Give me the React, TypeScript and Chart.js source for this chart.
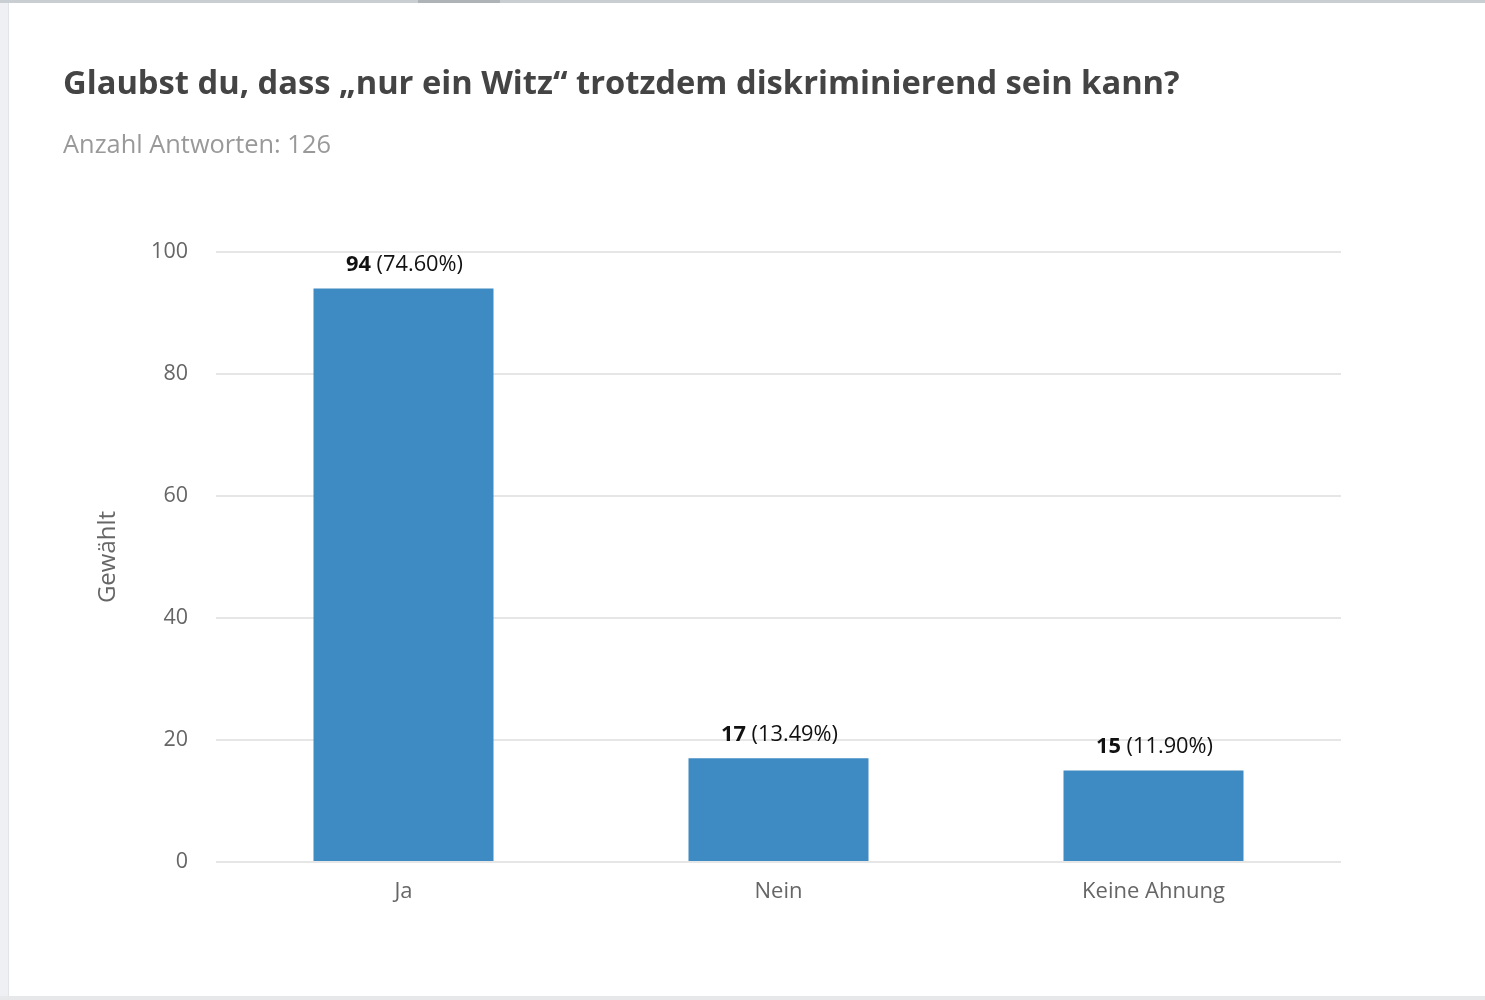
import React, { useEffect, useRef } from 'react';
import Chart from 'chart.js/auto';

const categories = ['Ja', 'Nein', 'Keine Ahnung'];
const votes = [94, 17, 15];
const percents = ['74.60%', '13.49%', '11.90%'];
const yTicks = [0, 20, 40, 60, 80, 100];

const FONT = '"Open Sans", sans-serif';

const valueLabels = {
  id: 'valueLabels',
  afterDatasetsDraw(chart: any) {
    const ctx = chart.ctx;
    const meta = chart.getDatasetMeta(0);
    ctx.save();
    ctx.textBaseline = 'middle';
    ctx.fillStyle = '#111';
    meta.data.forEach((bar: any, i: number) => {
      const num = String(votes[i]);
      const rest = ' (' + percents[i] + ')';
      ctx.font = '700 21.8px ' + FONT;
      const w1 = ctx.measureText(num).width;
      ctx.font = '400 21.8px ' + FONT;
      const w2 = ctx.measureText(rest).width;
      const x0 = bar.x - (w1 + w2) / 2 + 1;
      const y = bar.y - 24;
      ctx.textAlign = 'left';
      ctx.font = '700 21.8px ' + FONT;
      ctx.fillText(num, x0, y);
      ctx.font = '400 21.8px ' + FONT;
      ctx.fillText(rest, x0 + w1, y);
    });
    ctx.restore();
  },
};

const BarChart: React.FC = () => {
  const chartRef = useRef<HTMLCanvasElement>(null);

  useEffect(() => {
    if (!chartRef.current) return;
    const ctx = chartRef.current.getContext('2d');
    if (!ctx) return;

    const chart = new Chart(ctx, {
      type: 'bar',
      data: {
        labels: categories,
        datasets: [
          {
            label: 'Gewählt',
            data: votes,
            backgroundColor: '#3e8ac2',
            borderWidth: 0,
            categoryPercentage: 1,
            barPercentage: 0.48,
          },
        ],
      },
      plugins: [valueLabels],
      options: {
        animation: false,
        responsive: false,
        devicePixelRatio: 1,
        layout: { padding: { left: 0, right: 144, top: 252, bottom: 58 } },
        plugins: {
          legend: { display: false },
          tooltip: { enabled: false },
        },
        scales: {
          x: {
            grid: { display: false, drawTicks: false },
            border: { display: false },
            ticks: { color: '#666', padding: 17, font: { family: FONT, size: 22 } },
            afterFit: (scale: any) => {
              scale.height = 80;
            },
          },
          y: {
            min: 0,
            max: 100,
            afterBuildTicks: (scale: any) => {
              scale.ticks = yTicks.map((v) => ({ value: v }));
            },
            grid: { color: '#e6e6e6', lineWidth: 2, drawTicks: false },
            border: { display: false },
            ticks: { color: '#666', padding: 28, font: { family: FONT, size: 21.5 } },
            title: {
              display: true,
              text: 'Gewählt',
              color: '#666',
              font: { family: FONT, size: 24 },
              padding: { top: 94, bottom: 0 },
            },
            afterFit: (scale: any) => {
              scale.width = 216;
            },
          },
        },
      },
    });

    return () => chart.destroy();
  }, []);

  return <canvas ref={chartRef} width={1485} height={1000} style={{ position: 'absolute', left: 0, top: 0 }} />;
};

const App: React.FC = () => {
  useEffect(() => {
    document.body.style.margin = '0';
  }, []);
  return (
    <div style={{ position: 'fixed', left: 0, top: 0, width: 1485, height: 1000, background: '#fff', overflow: 'hidden', fontFamily: FONT }}>
      <BarChart />
      <div style={{ position: 'absolute', left: 0, top: 0, width: 8, height: 1000, background: '#eef0f3', borderRight: '1px solid #e2e5e8' }} />
      <div style={{ position: 'absolute', left: 0, top: 0, width: 1485, height: 3, background: '#c9ced3' }} />
      <div style={{ position: 'absolute', left: 418, top: 0, width: 82, height: 3, background: '#aeb3b8' }} />
      <div style={{ position: 'absolute', left: 0, top: 996, width: 1485, height: 4, background: '#e6e8ea' }} />
      <div style={{ position: 'absolute', left: 63, top: 60, fontSize: 32.7, fontWeight: 700, color: '#444', whiteSpace: 'nowrap', lineHeight: '44px' }}>
        Glaubst du, dass „nur ein Witz“ trotzdem diskriminierend sein kann?
      </div>
      <div style={{ position: 'absolute', left: 63, top: 127, fontSize: 25.4, color: '#999', whiteSpace: 'nowrap', lineHeight: '32px' }}>
        Anzahl Antworten: 126
      </div>
    </div>
  );
};

export default App;
